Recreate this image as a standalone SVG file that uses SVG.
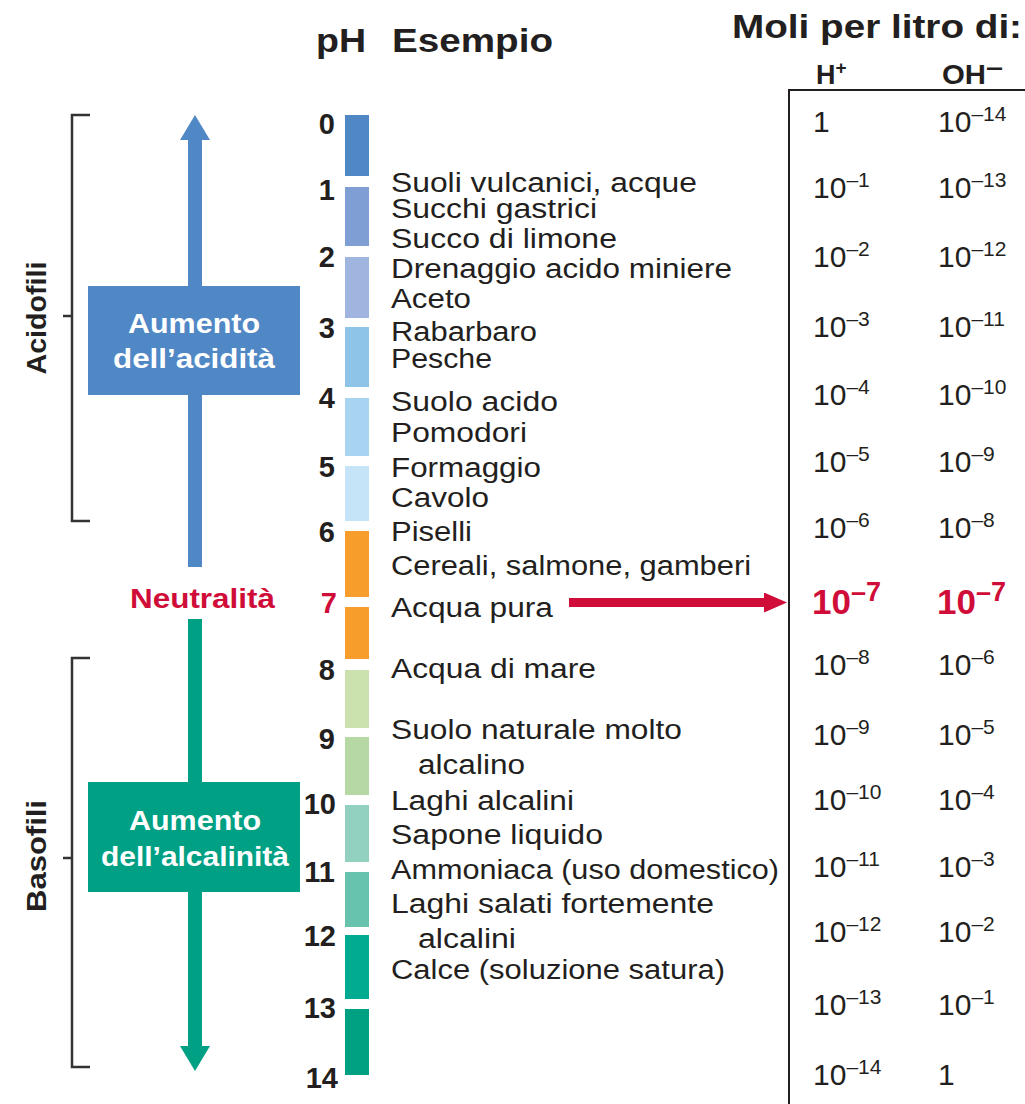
<svg xmlns="http://www.w3.org/2000/svg" width="1025" height="1104" viewBox="0 0 1025 1104">
<style>
text{font-family:"Liberation Sans",Arial,sans-serif;fill:#231f20}
.hd{font-weight:bold;font-size:34px}
.ph{font-weight:bold;font-size:29px;text-anchor:end}
.ex{font-size:27px}
.tv{font-size:30px}
.sup{font-size:21px}
.red{fill:#d00c38}
.tvr{font-size:35px;font-weight:bold;fill:#d00c38}
.supr{font-size:27px;font-weight:bold;fill:#d00c38}
.box{font-weight:bold;font-size:27px;fill:#fff;text-anchor:middle}
.side{font-weight:bold;font-size:27px;text-anchor:middle}
.brk{fill:none;stroke:#333;stroke-width:2.5}
</style>
<defs>
<marker id="hBlue" markerUnits="userSpaceOnUse" viewBox="0 0 25 30" markerWidth="25" markerHeight="30" refX="0" refY="15" orient="auto"><path d="M0,0 L25,15 L0,30 z" fill="#5087c5"/></marker>
<marker id="hGreen" markerUnits="userSpaceOnUse" viewBox="0 0 25 30" markerWidth="25" markerHeight="30" refX="0" refY="15" orient="auto"><path d="M0,0 L25,15 L0,30 z" fill="#00a084"/></marker>
<marker id="hRed" markerUnits="userSpaceOnUse" viewBox="0 0 23 20" markerWidth="23" markerHeight="20" refX="0" refY="10" orient="auto"><path d="M0,0 L23,10 L0,20 z" fill="#d00c38"/></marker>
</defs>
<rect width="1025" height="1104" fill="#fff"/>

<g id="headers">
<text class="hd" x="316" y="52" textLength="50" lengthAdjust="spacingAndGlyphs">pH</text>
<text class="hd" x="392" y="52" textLength="161" lengthAdjust="spacingAndGlyphs">Esempio</text>
<text class="hd" x="732" y="38" textLength="290" lengthAdjust="spacingAndGlyphs">Moli per litro di:</text>
<text x="816" y="84" font-weight="bold" font-size="27">H<tspan font-size="19" dy="-10">+</tspan></text>
<text x="942" y="84" font-weight="bold" font-size="27" textLength="44" lengthAdjust="spacingAndGlyphs">OH</text>
<text x="986" y="75" font-weight="bold" font-size="24" textLength="17" lengthAdjust="spacingAndGlyphs">–</text>
</g>

<g id="brackets">
<path class="brk" d="M90,115 H72 V521 H90 M72,316 H63"/>
<path class="brk" d="M90,658 H72 V1067 H90 M72,858 H63"/>
<text class="side" transform="translate(46,318) rotate(-90)" textLength="113" lengthAdjust="spacingAndGlyphs">Acidofili</text>
<text class="side" transform="translate(46,856) rotate(-90)" textLength="112" lengthAdjust="spacingAndGlyphs">Basofili</text>
</g>

<g id="connectors">
<path d="M195,567 V140" stroke="#5087c5" stroke-width="14" fill="none" marker-end="url(#hBlue)"/>
<path d="M195,619 V1046" stroke="#00a084" stroke-width="14" fill="none" marker-end="url(#hGreen)"/>
<path d="M569,602.5 H764" stroke="#d00c38" stroke-width="9" fill="none" marker-end="url(#hRed)"/>
</g>

<g id="acid-box">
<rect x="88" y="286" width="212" height="109" fill="#5087c5"/>
<text class="box" x="194" y="333" textLength="132" lengthAdjust="spacingAndGlyphs">Aumento</text>
<text class="box" x="194" y="368" textLength="162" lengthAdjust="spacingAndGlyphs">dell’acidità</text>
</g>

<g id="neutral">
<text x="130" y="608" font-weight="bold" font-size="27" class="red" textLength="145" lengthAdjust="spacingAndGlyphs">Neutralità</text>
</g>

<g id="alkali-box">
<rect x="88" y="782" width="212" height="110" fill="#00a084"/>
<text class="box" x="195" y="830" textLength="132" lengthAdjust="spacingAndGlyphs">Aumento</text>
<text class="box" x="195" y="866" textLength="188" lengthAdjust="spacingAndGlyphs">dell’alcalinità</text>
</g>

<g id="ph-scale">
<rect x="345" y="115" width="24" height="61" fill="#5087c5"/>
<rect x="345" y="187" width="24" height="59" fill="#7f9fd4"/>
<rect x="345" y="257" width="24" height="61" fill="#9fb4de"/>
<rect x="345" y="327" width="24" height="60" fill="#8ec4e8"/>
<rect x="345" y="398" width="24" height="58" fill="#a8d3f1"/>
<rect x="345" y="466" width="24" height="55" fill="#c5e4f7"/>
<rect x="345" y="531" width="24" height="66" fill="#f69d2c"/>
<rect x="345" y="607" width="24" height="52" fill="#f69d2c"/>
<rect x="345" y="670" width="24" height="58" fill="#cbe1ae"/>
<rect x="345" y="737" width="24" height="58" fill="#b5d8a5"/>
<rect x="345" y="805" width="24" height="57" fill="#92d1c0"/>
<rect x="345" y="872" width="24" height="55" fill="#67c3ae"/>
<rect x="345" y="935" width="24" height="64" fill="#00ab92"/>
<rect x="345" y="1009" width="24" height="66" fill="#00a183"/>
</g>

<g id="ph-numbers">
<text class="ph" x="335" y="134">0</text>
<text class="ph" x="335" y="200">1</text>
<text class="ph" x="335" y="267">2</text>
<text class="ph" x="335" y="338">3</text>
<text class="ph" x="335" y="408">4</text>
<text class="ph" x="335" y="477">5</text>
<text class="ph" x="335" y="542">6</text>
<text class="ph red" x="337" y="613" font-size="35">7</text>
<text class="ph" x="335" y="680">8</text>
<text class="ph" x="335" y="749">9</text>
<text class="ph" x="336" y="814">10</text>
<text class="ph" x="335" y="882">11</text>
<text class="ph" x="336" y="946">12</text>
<text class="ph" x="336" y="1018">13</text>
<text class="ph" x="338" y="1088">14</text>
</g>

<g id="examples">
<text class="ex" x="391" y="192" textLength="306" lengthAdjust="spacingAndGlyphs">Suoli vulcanici, acque</text>
<text class="ex" x="391" y="218" textLength="206" lengthAdjust="spacingAndGlyphs">Succhi gastrici</text>
<text class="ex" x="391" y="248" textLength="226" lengthAdjust="spacingAndGlyphs">Succo di limone</text>
<text class="ex" x="391" y="278" textLength="341" lengthAdjust="spacingAndGlyphs">Drenaggio acido miniere</text>
<text class="ex" x="391" y="308" textLength="80" lengthAdjust="spacingAndGlyphs">Aceto</text>
<text class="ex" x="391" y="341" textLength="146" lengthAdjust="spacingAndGlyphs">Rabarbaro</text>
<text class="ex" x="391" y="368" textLength="101" lengthAdjust="spacingAndGlyphs">Pesche</text>
<text class="ex" x="391" y="411" textLength="167" lengthAdjust="spacingAndGlyphs">Suolo acido</text>
<text class="ex" x="391" y="442" textLength="136" lengthAdjust="spacingAndGlyphs">Pomodori</text>
<text class="ex" x="391" y="477" textLength="150" lengthAdjust="spacingAndGlyphs">Formaggio</text>
<text class="ex" x="391" y="507" textLength="98" lengthAdjust="spacingAndGlyphs">Cavolo</text>
<text class="ex" x="391" y="541" textLength="81" lengthAdjust="spacingAndGlyphs">Piselli</text>
<text class="ex" x="391" y="575" textLength="360" lengthAdjust="spacingAndGlyphs">Cereali, salmone, gamberi</text>
<text class="ex" x="391" y="617" textLength="162" lengthAdjust="spacingAndGlyphs">Acqua pura</text>
<text class="ex" x="391" y="678" textLength="205" lengthAdjust="spacingAndGlyphs">Acqua di mare</text>
<text class="ex" x="391" y="739" textLength="291" lengthAdjust="spacingAndGlyphs">Suolo naturale molto</text>
<text class="ex" x="418" y="774" textLength="107" lengthAdjust="spacingAndGlyphs">alcalino</text>
<text class="ex" x="391" y="810" textLength="183" lengthAdjust="spacingAndGlyphs">Laghi alcalini</text>
<text class="ex" x="391" y="844" textLength="212" lengthAdjust="spacingAndGlyphs">Sapone liquido</text>
<text class="ex" x="391" y="879" textLength="388" lengthAdjust="spacingAndGlyphs">Ammoniaca (uso domestico)</text>
<text class="ex" x="391" y="913" textLength="323" lengthAdjust="spacingAndGlyphs">Laghi salati fortemente</text>
<text class="ex" x="418" y="948" textLength="98" lengthAdjust="spacingAndGlyphs">alcalini</text>
<text class="ex" x="391" y="979" textLength="334" lengthAdjust="spacingAndGlyphs">Calce (soluzione satura)</text>
</g>

<g id="table">
<path d="M789,1104 V90 H1025" fill="none" stroke="#231f20" stroke-width="2"/>
<text class="tv" x="813" y="132">1</text>
<text class="tv" x="938" y="132">10<tspan class="sup" dy="-11">–14</tspan></text>
<text class="tv" x="813" y="198">10<tspan class="sup" dy="-11">–1</tspan></text>
<text class="tv" x="938" y="198">10<tspan class="sup" dy="-11">–13</tspan></text>
<text class="tv" x="813" y="267">10<tspan class="sup" dy="-11">–2</tspan></text>
<text class="tv" x="938" y="267">10<tspan class="sup" dy="-11">–12</tspan></text>
<text class="tv" x="813" y="337">10<tspan class="sup" dy="-11">–3</tspan></text>
<text class="tv" x="938" y="337">10<tspan class="sup" dy="-11">–11</tspan></text>
<text class="tv" x="813" y="405">10<tspan class="sup" dy="-11">–4</tspan></text>
<text class="tv" x="938" y="405">10<tspan class="sup" dy="-11">–10</tspan></text>
<text class="tv" x="813" y="472">10<tspan class="sup" dy="-11">–5</tspan></text>
<text class="tv" x="938" y="472">10<tspan class="sup" dy="-11">–9</tspan></text>
<text class="tv" x="813" y="538">10<tspan class="sup" dy="-11">–6</tspan></text>
<text class="tv" x="938" y="538">10<tspan class="sup" dy="-11">–8</tspan></text>
<text class="tvr" x="812" y="614">10<tspan class="supr" dy="-13">–7</tspan></text>
<text class="tvr" x="937" y="614">10<tspan class="supr" dy="-13">–7</tspan></text>
<text class="tv" x="813" y="675">10<tspan class="sup" dy="-11">–8</tspan></text>
<text class="tv" x="938" y="675">10<tspan class="sup" dy="-11">–6</tspan></text>
<text class="tv" x="813" y="745">10<tspan class="sup" dy="-11">–9</tspan></text>
<text class="tv" x="938" y="745">10<tspan class="sup" dy="-11">–5</tspan></text>
<text class="tv" x="813" y="810">10<tspan class="sup" dy="-11">–10</tspan></text>
<text class="tv" x="938" y="810">10<tspan class="sup" dy="-11">–4</tspan></text>
<text class="tv" x="813" y="877">10<tspan class="sup" dy="-11">–11</tspan></text>
<text class="tv" x="938" y="877">10<tspan class="sup" dy="-11">–3</tspan></text>
<text class="tv" x="813" y="942">10<tspan class="sup" dy="-11">–12</tspan></text>
<text class="tv" x="938" y="942">10<tspan class="sup" dy="-11">–2</tspan></text>
<text class="tv" x="813" y="1015">10<tspan class="sup" dy="-11">–13</tspan></text>
<text class="tv" x="938" y="1015">10<tspan class="sup" dy="-11">–1</tspan></text>
<text class="tv" x="813" y="1085">10<tspan class="sup" dy="-11">–14</tspan></text>
<text class="tv" x="938" y="1085">1</text>
</g>
</svg>
